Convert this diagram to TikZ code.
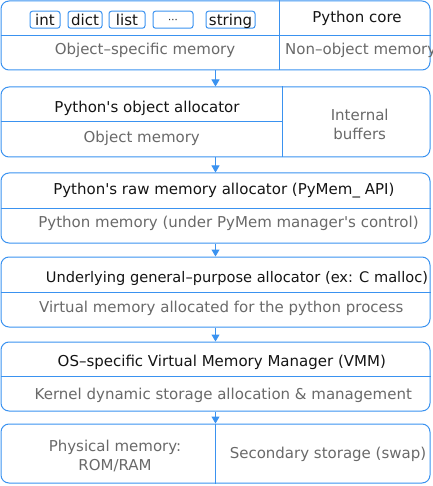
\documentclass[tikz,border=0pt]{standalone}
\usepackage{fontspec}
\setmainfont{DejaVu Sans}
\usepackage{xcolor}
\definecolor{memblue}{RGB}{58, 146, 240}
\definecolor{memgray}{RGB}{105, 105, 105}
\definecolor{memblack}{RGB}{20, 20, 20}
\usetikzlibrary{arrows.meta, positioning}

\begin{document}
\begin{tikzpicture}[x=1pt, y=-1pt, >={Triangle[length=7pt, width=8pt]},
    font=\fontsize{15}{18.6}\selectfont]

% === Parámetros ===
\def\xcore{279}    % División "Python core"
\def\xobj{282}     % División "Internal buffers"

% === Estilos ===
\tikzset{
    capa/.style={draw=memblue, line width=1pt, rounded corners=8pt,
        minimum width=429pt, inner sep=0pt},
    linea/.style={memblue, line width=1pt},
    tipo/.style={draw=memblue, line width=1pt, rounded corners=2.5pt,
        minimum height=17pt, inner sep=0pt, text=memblack,
        text height=12.5pt, text depth=0pt},
    titulo/.style={text=memblack, anchor=base, inner sep=0pt, align=center},
    memoria/.style={text=memgray, anchor=base, inner sep=0pt, align=center},
    flecha/.style={->, memblue, line width=1pt}
}

\useasboundingbox (0,0) rectangle (432,486);

% === Capas ===
\node[capa, minimum height=69pt] (c1) at (215.5, 35.5) {};
\node[capa, minimum height=70pt] (c2) at (215.5, 122) {};
\node[capa, minimum height=70pt] (c3) at (215.5, 208) {};
\node[capa, minimum height=70pt] (c4) at (215.5, 292) {};
\node[capa, minimum height=69pt] (c5) at (215.5, 376.5) {};
\node[capa, minimum height=59pt] (c6) at (215.5, 453.5) {};

% Divisiones internas
\draw[linea] (c1.west) -- (c1.east);
\draw[linea] (\xcore,0 |- c1.north) -- (\xcore,0 |- c1.south);
\draw[linea] (c2.west) -- (\xobj,0 |- c2.west);
\draw[linea] (\xobj,0 |- c2.north) -- (\xobj,0 |- c2.south);
\draw[linea] (c3.west) -- (c3.east);
\draw[linea] (c4.west) -- (c4.east);
\draw[linea] (c5.west) -- (c5.east);
\draw[linea] (c6.north) -- (c6.south);

% === Capa 1: objetos de Python ===
\node[tipo, minimum width=30pt] (int) at (45, 19.7) {int};
\node[tipo, minimum width=34pt] (dict) at (85, 19.7) {dict};
\node[tipo, minimum width=36pt] (list) at (127, 19.7) {list};
\node[tipo, minimum width=40pt, text height=7pt] (dots) at (173, 19.7)
    {\fontsize{10}{12}\selectfont ···};
\node[tipo, minimum width=49pt] (string) at (230.5, 19.7) {string};
\node[titulo] (core) at (357, 22.7) {Python core};
\node[memoria] (objmem) at (145, 55) {Object–specific memory};
\node[memoria, anchor=base west] (nonobj) at (285, 55) {Non–object memory};

% === Capa 2 ===
\node[titulo] (objalloc) at (147, 112.3) {Python\textquotesingle s object allocator};
\node[memoria] (objmem2) at (141.7, 142.3) {Object memory};
\node[memoria] (buffers) at (359.7, 139.3) {Internal\\buffers};

% === Capa 3 ===
\node[titulo] (rawalloc) at (223.8, 194.3)
    {Python\textquotesingle s raw memory allocator (PyMem\_ API)};
\node[memoria] (pymem) at (228.5, 227.3)
    {Python memory (under PyMem manager\textquotesingle s control)};

% === Capa 4 ===
\node[titulo, anchor=base west, font=\fontsize{14.6}{18}\selectfont] (malloc)
    at (45.7, 282.3) {Underlying general–purpose allocator (ex: C malloc)};
\node[memoria] (virtual) at (221.3, 312.3)
    {Virtual memory allocated for the python process};

% === Capa 5 ===
\node[titulo] (vmm) at (221.8, 366)
    {OS–specific Virtual Memory Manager (VMM)};
\node[memoria] (kernel) at (223.3, 399)
    {Kernel dynamic storage allocation \& management};

% === Capa 6 ===
\node[memoria] (fisica) at (115, 470) {Physical memory:\\ROM/RAM};
\node[memoria] (swap) at (328, 458.3) {Secondary storage (swap)};

% === Flechas entre capas ===
\draw[flecha] (c1.south) -- (c2.north);
\draw[flecha] (c2.south) -- (c3.north);
\draw[flecha] (c3.south) -- (c4.north);
\draw[flecha] (c4.south) -- (c5.north);
\draw[flecha] (c5.south) -- (c6.north);

\end{tikzpicture}
\end{document}
